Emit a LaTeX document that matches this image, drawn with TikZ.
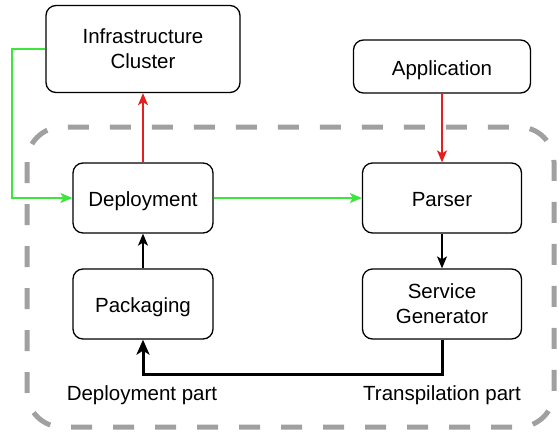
\documentclass[tikz,border=0pt]{standalone}
\usepackage{fontspec}
\setmainfont{Liberation Sans}
\usetikzlibrary{arrows.meta}
\definecolor{dashgray}{RGB}{160,160,160}
\definecolor{lgreen}{RGB}{60,230,60}
\definecolor{lred}{RGB}{230,30,30}
\tikzset{
  box/.style={draw=black, line width=1.3pt, rounded corners=10pt, fill=white, align=center, inner sep=0pt, font=\fontsize{20.5}{25}\selectfont},
  oneline/.style={text height=17.5pt, text depth=0pt},
  lbl/.style={inner sep=0pt, anchor=base, font=\fontsize{20.5}{25}\selectfont},
  tip/.style={-{Stealth[length=12pt,width=10pt,inset=3pt]}},
  bigtip/.style={-{Stealth[length=15pt,width=13pt,inset=4pt]}},
}
\begin{document}
\begin{tikzpicture}[x=1pt,y=-1pt]
\useasboundingbox (0,0) rectangle (560,440);
% container
\draw[dashgray, line width=5pt, rounded corners=35pt, dash pattern=on 21pt off 21pt] (27,127) rectangle (554,427);
% nodes
\node[box, minimum width=194pt, minimum height=87pt] (infra) at (143,49) {Infrastructure\\Cluster};
\node[box, oneline, minimum width=177pt, minimum height=53pt] (app) at (442,66.5) {Application};
\node[box, oneline, minimum width=140pt, minimum height=70pt] (dep) at (143,198) {Deployment};
\node[box, oneline, minimum width=159pt, minimum height=70pt] (parser) at (442,198) {Parser};
\node[box, oneline, minimum width=140pt, minimum height=70pt] (pack) at (143,304) {Packaging};
\node[box, minimum width=159pt, minimum height=70pt] (sg) at (442,304) {Service\\Generator};
\node[lbl] (dlbl) at (142,400) {Deployment part};
\node[lbl] (tlbl) at (442,400) {Transpilation part};
% connectors
\draw[lgreen, line width=1.3pt, tip] (infra.west) -- (12,49) |- (dep.west);
\draw[lgreen, line width=1.3pt, tip] (dep.east) -- (parser.west);
\draw[lred, line width=1.3pt, tip] (dep.north) -- (infra.south);
\draw[lred, line width=1.3pt, tip] (app.south) -- (parser.north);
\draw[black, line width=1.3pt, tip] (parser.south) -- (sg.north);
\draw[black, line width=1.3pt, tip] (pack.north) -- (dep.south);
\draw[black, line width=3pt, bigtip] (sg.south) -- (442,374) -- (143,374) -- (pack.south);
\end{tikzpicture}
\end{document}
